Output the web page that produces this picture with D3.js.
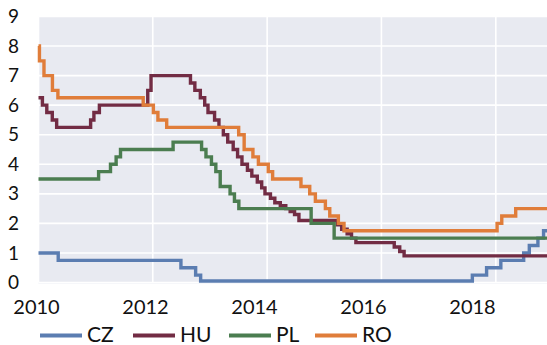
<!DOCTYPE html>
<html>
<head>
<meta charset="utf-8">
<script src="https://cdn.jsdelivr.net/npm/d3@7"></script>
<style>
  html, body { margin: 0; padding: 0; background: #fff; }
  svg { display: block; font-family: Lato, "Open Sans", sans-serif; }
</style>
</head>
<body>
<svg id="chart" width="547" height="345"></svg>
<script>
// Policy rate change points (effective date, rate in %)
const czDates = ["2010-01-01","2010-05-07","2012-06-29","2012-10-01","2012-11-02","2017-08-04","2017-11-03","2018-02-02","2018-06-28","2018-08-03","2018-09-27","2018-11-02"];
const czRates = [1.00, 0.75, 0.50, 0.25, 0.05, 0.25, 0.50, 0.75, 1.00, 1.25, 1.50, 1.75];

const huDates = ["2010-01-01","2010-01-26","2010-02-23","2010-03-30","2010-04-27","2010-11-30","2010-12-21","2011-01-25","2011-11-30","2011-12-21",
  "2012-08-29","2012-09-26","2012-10-31","2012-11-28","2012-12-19","2013-01-30","2013-02-27","2013-03-27","2013-04-24","2013-05-29",
  "2013-06-26","2013-07-24","2013-08-28","2013-09-25","2013-10-30","2013-11-27","2013-12-18","2014-01-22","2014-02-19","2014-03-26",
  "2014-04-30","2014-05-28","2014-06-25","2014-07-23","2015-03-25","2015-04-22","2015-05-27","2015-06-24","2015-07-22","2016-03-23",
  "2016-04-27","2016-05-25"];
const huRates = [6.25, 6.00, 5.75, 5.50, 5.25, 5.50, 5.75, 6.00, 6.50, 7.00,
  6.75, 6.50, 6.25, 6.00, 5.75, 5.50, 5.25, 5.00, 4.75, 4.50,
  4.25, 4.00, 3.80, 3.60, 3.40, 3.20, 3.00, 2.85, 2.70, 2.60,
  2.50, 2.40, 2.30, 2.10, 1.95, 1.80, 1.65, 1.50, 1.35, 1.20,
  1.05, 0.90];

const plDates = ["2010-01-01","2011-01-20","2011-04-06","2011-05-12","2011-06-09","2012-05-10","2012-11-08","2012-12-06","2013-01-10","2013-02-07",
  "2013-03-07","2013-05-09","2013-06-06","2013-07-04","2014-10-09","2015-03-05"];
const plRates = [3.50, 3.75, 4.00, 4.25, 4.50, 4.75, 4.50, 4.25, 4.00, 3.75,
  3.25, 3.00, 2.75, 2.50, 2.00, 1.50];

const roDates = ["2010-01-01","2010-01-07","2010-02-05","2010-03-31","2010-05-05","2011-11-01","2012-01-05","2012-02-03","2012-03-30","2013-07-03",
  "2013-08-07","2013-10-02","2013-11-06","2014-01-08","2014-02-05","2014-08-05","2014-09-30","2014-11-05","2015-01-08","2015-02-05",
  "2015-04-01","2015-05-07","2018-01-09","2018-02-08","2018-05-08"];
const roRates = [8.00, 7.50, 7.00, 6.50, 6.25, 6.00, 5.75, 5.50, 5.25, 5.00,
  4.50, 4.25, 4.00, 3.75, 3.50, 3.25, 3.00, 2.75, 2.50, 2.25,
  2.00, 1.75, 2.00, 2.25, 2.50];

const seriesNames = ["CZ", "HU", "PL", "RO"];
const seriesColors = ["#5b7db1", "#722c44", "#4b7d50", "#e07d3a"];
const yTicks = [0, 1, 2, 3, 4, 5, 6, 7, 8, 9];
const xTickYears = [2010, 2012, 2014, 2016, 2018];
const xStart = "2010-01-01";
const xEnd = "2018-11-24";

const parse = d3.timeParse("%Y-%m-%d");
const svg = d3.select("#chart");

const plot = { left: 38.5, right: 547, top: 16.5, bottom: 282.5 };

const x = d3.scaleTime().domain([parse(xStart), parse(xEnd)]).range([plot.left, plot.right]);
const y = d3.scaleLinear().domain([0, 9]).range([plot.bottom, plot.top]);
// Year labels sit on their own evenly spaced scale below the plot
const xLabel = d3.scaleLinear().domain([2010, 2018]).range([36, 472]);

// Plot background
svg.append("rect")
  .attr("x", plot.left).attr("y", plot.top)
  .attr("width", plot.right - plot.left).attr("height", plot.bottom - plot.top + 1)
  .attr("fill", "#e8eaf1");

// Grid lines
const grid = svg.append("g").attr("stroke", "#ffffff").attr("stroke-width", 1.6);
grid.selectAll("line.h").data(yTicks).join("line")
  .attr("class", "h")
  .attr("x1", plot.left).attr("x2", plot.right)
  .attr("y1", d => y(d)).attr("y2", d => y(d));
grid.selectAll("line.v").data(xTickYears).join("line")
  .attr("class", "v")
  .attr("x1", d => x(new Date(d, 0, 1))).attr("x2", d => x(new Date(d, 0, 1)))
  .attr("y1", plot.top).attr("y2", plot.bottom);

// Y axis labels
const yAxis = d3.axisLeft(y).tickValues(yTicks).tickSize(0).tickPadding(0).tickFormat(d3.format("d"));
const yG = svg.append("g").attr("transform", "translate(19,0)").call(yAxis);
yG.select(".domain").remove();
yG.selectAll("text").attr("font-size", 19).attr("fill", "#111").attr("font-family", "Lato, sans-serif");

// X axis labels
const xAxis = d3.axisBottom(xLabel).tickValues(xTickYears).tickSize(0).tickPadding(0).tickFormat(d3.format("d"));
const xG = svg.append("g").attr("transform", "translate(0,300)").call(xAxis);
xG.select(".domain").remove();
xG.selectAll("text").attr("font-size", 20).attr("fill", "#111").attr("font-family", "Lato, sans-serif");

// Build step series from change points, holding the last rate to the end of the range
function buildSeries(dates, rates) {
  const pts = dates.map((d, i) => ({ date: parse(d), value: rates[i] }));
  pts.push({ date: parse(xEnd), value: rates[rates.length - 1] });
  return pts;
}
const allSeries = [
  buildSeries(czDates, czRates),
  buildSeries(huDates, huRates),
  buildSeries(plDates, plRates),
  buildSeries(roDates, roRates)
];

const line = d3.line().x(d => x(d.date)).y(d => y(d.value)).curve(d3.curveStepAfter);

svg.append("g").selectAll("path").data(allSeries).join("path")
  .attr("d", line)
  .attr("fill", "none")
  .attr("stroke", (d, i) => seriesColors[i])
  .attr("stroke-width", 3.4)
  .attr("stroke-linejoin", "miter");

// Legend
const legendX = [40, 133, 229, 315];
const legend = svg.append("g");
seriesNames.forEach((name, i) => {
  const g = legend.append("g").attr("transform", `translate(${legendX[i]},335.5)`);
  g.append("line").attr("x1", 0).attr("x2", 42).attr("y1", 0).attr("y2", 0)
    .attr("stroke", seriesColors[i]).attr("stroke-width", 4);
  g.append("text").attr("x", 47).attr("y", 6.5)
    .attr("font-size", 21).attr("fill", "#111").attr("font-family", "Lato, sans-serif")
    .text(name);
});
</script>
</body>
</html>
